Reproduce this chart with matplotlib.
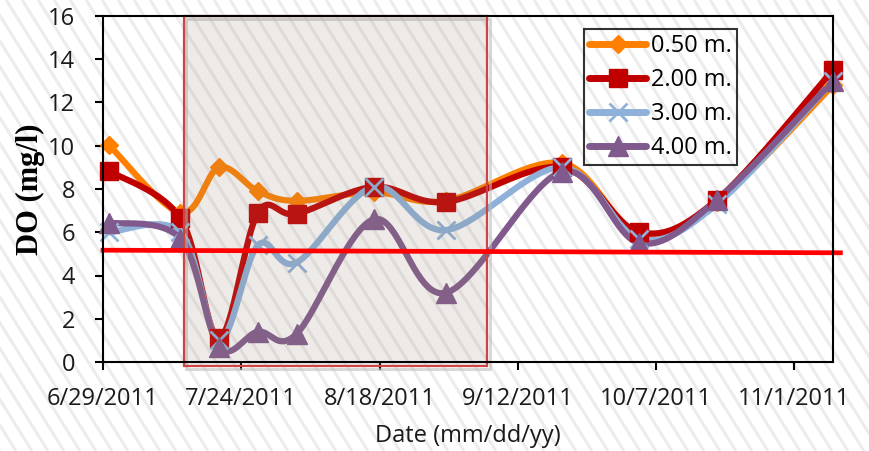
import numpy as np
import pandas as pd
import matplotlib
matplotlib.use("Agg")
import matplotlib.pyplot as plt
import matplotlib.dates as mdates
from matplotlib.lines import Line2D
from matplotlib.patches import Rectangle

# === data ===
dates = ["2011-06-30", "2011-07-13", "2011-07-20", "2011-07-27", "2011-08-03", "2011-08-17",
         "2011-08-30", "2011-09-20", "2011-10-04", "2011-10-18", "2011-11-08"]
do_050 = [10.05, 6.9, 9.0, 7.9, 7.45, 7.85, 7.45, 9.2, 5.9, 7.4, 12.8]
do_200 = [8.85, 6.65, 1.1, 6.9, 6.85, 8.1, 7.4, 9.0, 6.0, 7.5, 13.5]
do_300 = [6.0, 6.0, 1.0, 5.4, 4.6, 8.1, 6.1, 9.0, 5.7, 7.3, 13.0]
do_400 = [6.45, 5.7, 0.7, 1.4, 1.3, 6.6, 3.2, 8.8, 5.5, 7.5, 13.0]
labels = ["0.50 m.", "2.00 m.", "3.00 m.", "4.00 m."]

tick_dates = ["2011-06-29", "2011-07-24", "2011-08-18", "2011-09-12", "2011-10-07", "2011-11-01"]
tick_labels = ["6/29/2011", "7/24/2011", "8/18/2011", "9/12/2011", "10/7/2011", "11/1/2011"]
x_range = ["2011-06-29", "2011-11-08"]

# standard line (drawn shape) and shaded period
limit_x = ["2011-06-29 00:00", "2011-11-09 08:00"]
limit_y = [5.17, 5.05]
period = ["2011-07-13 14:00", "2011-09-06 12:00"]


def to_num(strs):
    return mdates.date2num(pd.to_datetime(strs, format="mixed"))


def smooth(xs, ys, n=40):
    """Excel-like smoothed line (Catmull-Rom style bezier through the points)"""
    pts = np.column_stack([xs, ys])
    out = []
    for i in range(len(pts) - 1):
        p0 = pts[i - 1] if i > 0 else pts[i]
        p1, p2 = pts[i], pts[i + 1]
        p3 = pts[i + 2] if i + 2 < len(pts) else pts[i + 1]
        c1 = p1 + (p2 - p0) / 6
        c2 = p2 - (p3 - p1) / 6
        t = np.linspace(0, 1, n)[:, None]
        seg = (1 - t) ** 3 * p1 + 3 * (1 - t) ** 2 * t * c1 + 3 * (1 - t) * t ** 2 * c2 + t ** 3 * p2
        out.append(seg if i == 0 else seg[1:])
    return np.vstack(out)


W, H = 869, 451
fig = plt.figure(figsize=(W / 100, H / 100), dpi=100)

# faint diagonal stripes over the whole background
bg = fig.add_axes([0, 0, 1, 1], zorder=-10)
bg.set_xlim(0, W)
bg.set_ylim(H, 0)
bg.axis("off")
slope = np.tan(np.radians(58))
for c in np.arange(-H / slope, W + 20, 16):
    bg.plot([c, c + H / slope], [0, H], color="#ececec", lw=2.2, solid_capstyle="butt")

ax = fig.add_axes([103 / W, 1 - 362 / H, 730 / W, 346 / H])
ax.set_facecolor("none")

x = to_num(dates)
styles = [
    (do_050, "#ff8000", "D", 9.5, 1.0),
    (do_200, "#c00000", "s", 13, 1.0),
    (do_300, "#8eb0d9", "x", 13, 2.0),
    (do_400, "#805a8c", "^", 14, 1.0),
]
handles = []
for (vals, col, mk, ms, mew), lab in zip(styles, labels):
    curve = smooth(x, vals)
    ax.plot(curve[:, 0], curve[:, 1], color=col, lw=4.5, solid_capstyle="round",
            solid_joinstyle="round", zorder=3, clip_on=False)
    ax.plot(x, vals, linestyle="none", marker=mk, ms=ms, color=col, mec=col, mew=mew,
            zorder=4, clip_on=False)
    handles.append(Line2D([], [], color=col, lw=5, marker=mk, ms=ms, mec=col, mew=mew,
                          solid_capstyle="round", label=lab))

# shaded period box, semi-transparent on top of the lines
px = to_num(period)
shadow = Rectangle((px[0] + 0.5, -0.32), px[1] - px[0], 16.2, facecolor="none",
                   edgecolor="#bbbbbb", lw=2.0, alpha=0.6, zorder=4.5, clip_on=False)
ax.add_patch(shadow)
rect = Rectangle((px[0], -0.2), px[1] - px[0], 16.2, facecolor=(0.58, 0.51, 0.43, 0.16),
                 edgecolor="#cc4444", lw=1.6, zorder=5, clip_on=False)
ax.add_patch(rect)

lx = to_num(limit_x)
ax.plot(lx, limit_y, color="#ff0000", lw=3.4, zorder=6, clip_on=False)

xr = to_num(x_range)
ax.set_xlim(xr[0], xr[1])
ax.set_ylim(0, 16)
ax.set_yticks(np.arange(0, 17, 2))
ax.set_xticks(to_num(tick_dates))
ax.set_xticklabels(tick_labels)

for s in ax.spines.values():
    s.set_linewidth(1.5)
    s.set_color("black")
    s.set_zorder(7)
ax.tick_params(axis="both", direction="out", width=1.5, length=6, labelsize=17,
               colors="black")
ax.tick_params(axis="x", pad=12)
ax.tick_params(axis="y", pad=14)
for lbl in ax.get_xticklabels() + ax.get_yticklabels():
    lbl.set_fontfamily("Open Sans")
    lbl.set_color("#1a1a1a")

ax.set_xlabel("Date (mm/dd/yy)", fontfamily="Open Sans", fontsize=17, color="#1a1a1a", labelpad=9)
ax.set_ylabel("DO (mg/l)", fontfamily="Liberation Serif", fontweight="bold", fontsize=22,
              labelpad=2)

leg = ax.legend(handles=handles, loc="upper left", bbox_to_anchor=(0.659, 0.962),
                borderaxespad=0, frameon=True, fancybox=False, handlelength=2.4,
                handletextpad=0.2, labelspacing=0.42, borderpad=0.22,
                prop={"family": "Open Sans", "size": 17})
leg.get_frame().set_edgecolor("black")
leg.get_frame().set_linewidth(1.5)
leg.get_frame().set_facecolor("none")
leg.set_zorder(10)

fig.savefig("out.png", dpi=100)
